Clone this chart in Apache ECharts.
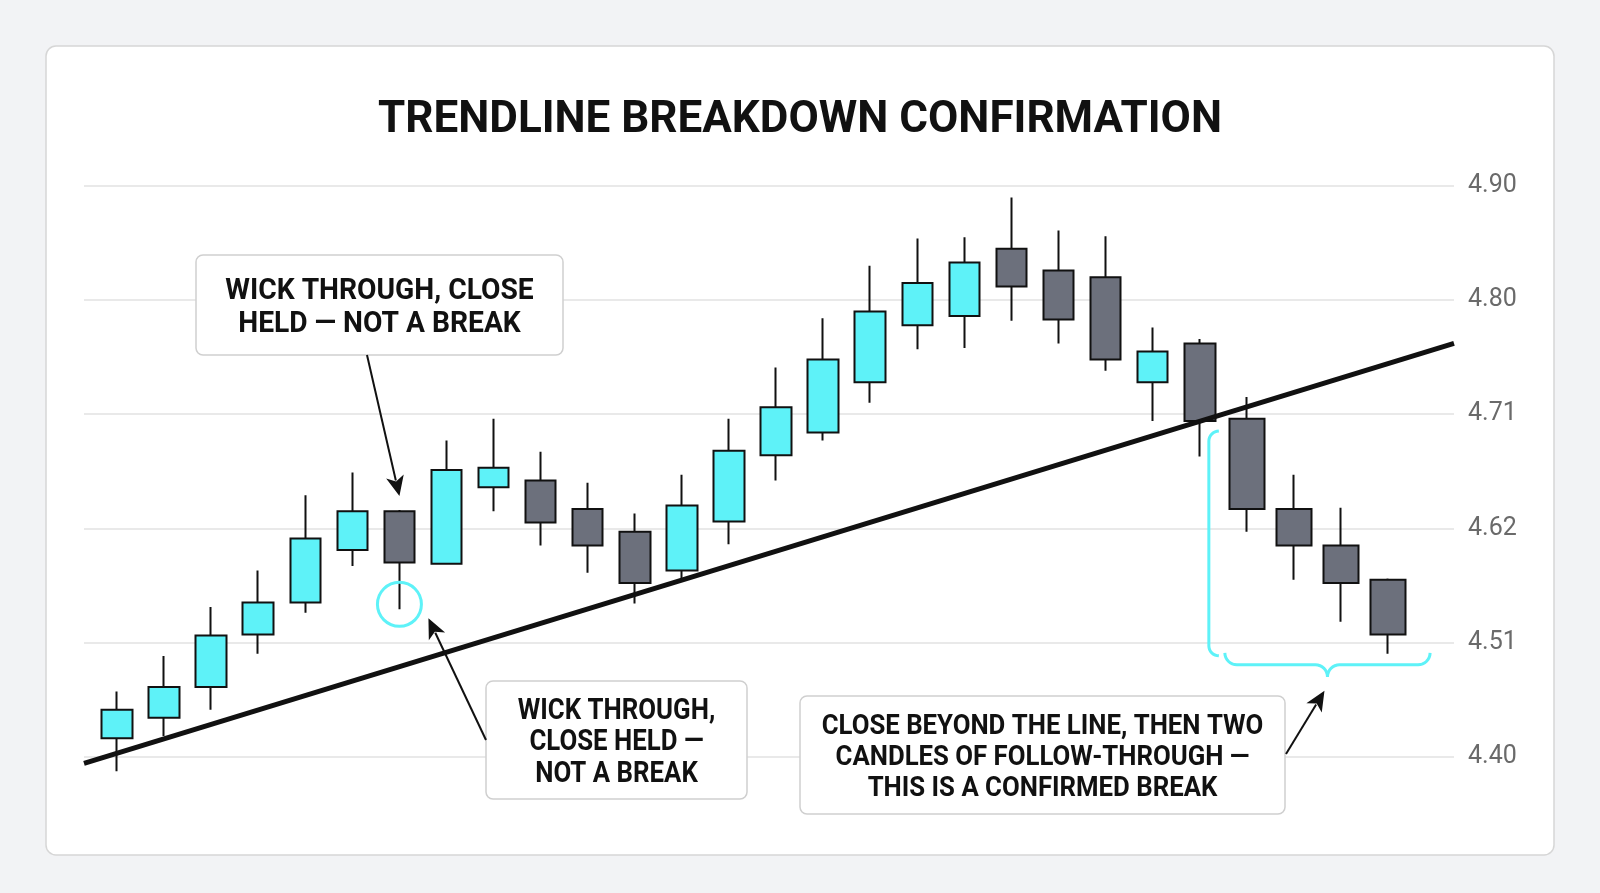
<!DOCTYPE html>
<html>
<head>
<meta charset="utf-8">
<script src="https://cdn.jsdelivr.net/npm/echarts@6/dist/echarts.min.js"></script>
<style>
html, body { margin: 0; padding: 0; background: #f2f3f5; }
#chart { width: 1600px; height: 893px; }
</style>
</head>
<body>
<div id="chart"></div>
<script>
// candle values, one entry per session
var opens  = [4.416, 4.434, 4.461, 4.507, 4.535, 4.581, 4.615, 4.569, 4.636, 4.642, 4.617, 4.597, 4.563, 4.606,
              4.664, 4.684, 4.728, 4.778, 4.786, 4.845, 4.826, 4.820, 4.728, 4.762, 4.696, 4.617, 4.585, 4.555];
var closes = [4.441, 4.461, 4.506, 4.535, 4.591, 4.615, 4.570, 4.651, 4.653, 4.605, 4.585, 4.552, 4.620, 4.668,
              4.706, 4.748, 4.790, 4.815, 4.833, 4.812, 4.783, 4.748, 4.755, 4.694, 4.617, 4.585, 4.552, 4.507];
var lows   = [4.387, 4.418, 4.441, 4.490, 4.526, 4.567, 4.529, 4.568, 4.615, 4.585, 4.561, 4.534, 4.555, 4.586,
              4.642, 4.677, 4.710, 4.757, 4.758, 4.782, 4.762, 4.738, 4.694, 4.663, 4.597, 4.555, 4.518, 4.490];
var highs  = [4.457, 4.488, 4.531, 4.563, 4.629, 4.649, 4.616, 4.677, 4.696, 4.667, 4.640, 4.613, 4.647, 4.696,
              4.741, 4.784, 4.830, 4.854, 4.855, 4.890, 4.861, 4.856, 4.776, 4.766, 4.715, 4.647, 4.618, 4.556];

// trendline anchors [x index, price]
var trendStart = [-0.7, 4.394];
var trendEnd = [28.4, 4.762];

var tickLabels = ['4.40', '4.51', '4.62', '4.71', '4.80', '4.90'];

var breakIndex = 24; // first candle after the close below the line
var wickCandle = 6;  // wick-through candle

var CYAN = '#5ef2f8';
var DARK = '#6c707c';
var INK = '#111111';

function candleRows(from, to) {
    var rows = [];
    for (var i = from; i < to; i++) {
        rows.push([i, opens[i], closes[i], lows[i], highs[i]]);
    }
    return rows;
}

var candleStyle = {
    color: CYAN,
    color0: DARK,
    borderColor: INK,
    borderColor0: INK,
    borderWidth: 2
};

var option = {
    animation: false,
    grid: { left: 84, right: 146, top: 186, bottom: 136.5 },
    xAxis: {
        type: 'value',
        min: -0.7,
        max: 28.4,
        show: false
    },
    yAxis: {
        type: 'value',
        position: 'right',
        min: 4.4,
        max: 4.9,
        interval: 0.1,
        axisLine: { show: false },
        axisTick: { show: false },
        axisLabel: {
            margin: 14,
            color: '#6a6a6a',
            fontSize: 25,
            fontFamily: 'Roboto',
            formatter: function (v, idx) { return tickLabels[idx]; }
        },
        splitLine: { lineStyle: { color: '#e2e2e2', width: 1.5 } }
    },
    series: [
        {
            type: 'candlestick',
            clip: false,
            barWidth: 31,
            encode: { x: 0, y: [1, 2, 3, 4] },
            itemStyle: candleStyle,
            data: candleRows(0, breakIndex)
        },
        {
            type: 'candlestick',
            clip: false,
            barWidth: 36,
            encode: { x: 0, y: [1, 2, 3, 4] },
            itemStyle: candleStyle,
            data: candleRows(breakIndex, opens.length)
        },
        {
            type: 'line',
            clip: false,
            z: 5,
            symbol: 'none',
            lineStyle: { color: INK, width: 5 },
            data: [trendStart, trendEnd]
        }
    ]
};

var chart = echarts.init(document.getElementById('chart'));
chart.setOption(option);

function px(i, v) {
    return chart.convertToPixel({ gridIndex: 0 }, [i, v]);
}

function arrow(from, to) {
    var dx = to[0] - from[0], dy = to[1] - from[1];
    var len = Math.sqrt(dx * dx + dy * dy);
    var ux = dx / len, uy = dy / len;
    var bx = to[0] - ux * 20, by = to[1] - uy * 20;
    return [
        { type: 'line', z: 100, shape: { x1: from[0], y1: from[1], x2: bx + ux * 4, y2: by + uy * 4 },
          style: { stroke: INK, lineWidth: 2 } },
        { type: 'polygon', z: 100,
          shape: { points: [to, [bx - uy * 9, by + ux * 9], [bx + ux * 5, by + uy * 5], [bx + uy * 9, by - ux * 9]] },
          style: { fill: INK } }
    ];
}

function arcPts(cx, cy, r, a0, a1) {
    var pts = [];
    for (var k = 0; k <= 8; k++) {
        var a = (a0 + (a1 - a0) * k / 8) * Math.PI / 180;
        pts.push([cx + r * Math.cos(a), cy + r * Math.sin(a)]);
    }
    return pts;
}

// the callout font is a narrow bold face, so squeeze Roboto a bit
function box(x, y, w, h, lines, size, lh, squeeze) {
    return [
        { type: 'rect', z: 100, shape: { x: x, y: y, width: w, height: h, r: 7 },
          style: { fill: '#fff', stroke: '#cfcfcf', lineWidth: 1.5 } },
        { type: 'text', z: 101, x: x + w / 2, y: y + h / 2 + 3, scaleX: squeeze,
          style: { text: lines.join('\n'), fill: INK, font: 'bold ' + size + 'px Roboto', lineHeight: lh,
                   align: 'center', verticalAlign: 'middle' } }
    ];
}

var els = [];

// card + title
els.push({ type: 'rect', z: -10, shape: { x: 46, y: 46, width: 1508, height: 809, r: 10 },
           style: { fill: '#fff', stroke: '#d6d6d6', lineWidth: 1.5 } });
els.push({ type: 'text', z: 100, x: 800, y: 121,
           style: { text: 'TRENDLINE BREAKDOWN CONFIRMATION', fill: INK, font: 'bold 44px Roboto',
                    align: 'center', verticalAlign: 'middle' } });

// wick-through circle
var wickLow = px(wickCandle, lows[wickCandle]);
var circ = [wickLow[0], wickLow[1] - 5];
els.push({ type: 'circle', z: 100, shape: { cx: circ[0], cy: circ[1], r: 22 },
           style: { fill: 'none', stroke: CYAN, lineWidth: 3 } });

// break bracket and brace
var cFirst = px(breakIndex, lows[breakIndex])[0];
var cLast = px(opens.length - 1, lows[opens.length - 1]);
var yb = cLast[1] + 11;
var bx = cFirst - 38;
var yTop = px(breakIndex - 1, closes[breakIndex - 1])[1] + 10;
var yBot = yb - 9;
var bracket = [].concat(arcPts(bx + 10, yTop + 10, 10, 270, 180), arcPts(bx + 10, yBot - 10, 10, 180, 90));
els.push({ type: 'polyline', z: 100, shape: { points: bracket },
           style: { fill: 'none', stroke: CYAN, lineWidth: 3 } });

var xl = cFirst - 22, xr = cLast[0] + 42, xm = (xl + xr) / 2;
var brace = [].concat(
    arcPts(xl + 12, yb - 12, 12, 180, 90),
    arcPts(xm - 12, yb + 12, 12, 270, 360),
    arcPts(xm + 12, yb + 12, 12, 180, 270),
    arcPts(xr - 12, yb - 12, 12, 90, 0)
);
els.push({ type: 'polyline', z: 100, shape: { points: brace },
           style: { fill: 'none', stroke: CYAN, lineWidth: 3 } });

// callouts
els = els.concat(box(196, 255, 367, 100, ['WICK THROUGH, CLOSE', 'HELD \u2014 NOT A BREAK'], 30, 33, 0.94));
els = els.concat(box(486, 681, 261, 118, ['WICK THROUGH,', 'CLOSE HELD \u2014', 'NOT A BREAK'], 29, 31.5, 0.89));
els = els.concat(box(800, 696, 485, 118,
    ['CLOSE BEYOND THE LINE, THEN TWO', 'CANDLES OF FOLLOW-THROUGH \u2014', 'THIS IS A CONFIRMED BREAK'], 28, 31, 0.92));

var wickTop = px(wickCandle, highs[wickCandle]);
els = els.concat(arrow([367, 355], [wickTop[0], wickTop[1] - 14]));
els = els.concat(arrow([486, 740], [circ[0] + 29, circ[1] + 14]));
els = els.concat(arrow([1286, 754], [xm - 3, yb + 26]));

chart.setOption({ graphic: { elements: els } });
</script>
</body>
</html>
